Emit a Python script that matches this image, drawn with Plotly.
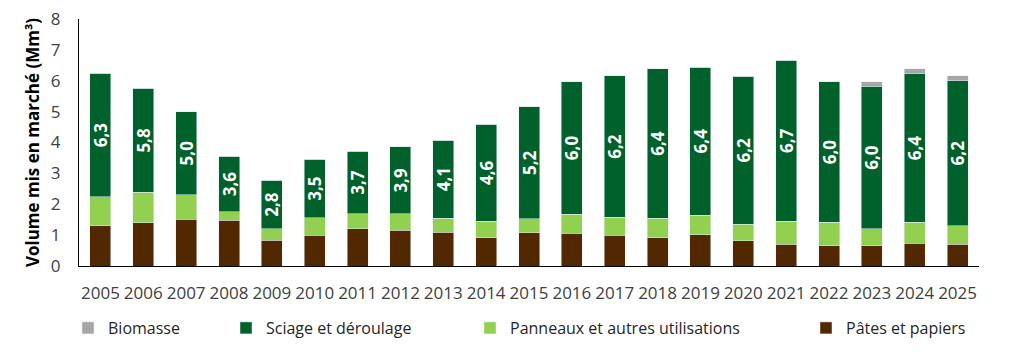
import plotly.graph_objects as go

years = [str(y) for y in range(2005, 2026)]
pates = [1.31, 1.40, 1.51, 1.48, 0.84, 0.99, 1.20, 1.16, 1.09, 0.92, 1.07,
         1.06, 0.99, 0.92, 1.01, 0.81, 0.70, 0.65, 0.65, 0.73, 0.70]
panneaux = [0.93, 0.99, 0.80, 0.27, 0.36, 0.57, 0.49, 0.53, 0.46, 0.53, 0.46,
            0.62, 0.59, 0.63, 0.64, 0.55, 0.75, 0.77, 0.55, 0.69, 0.61]
sciage = [4.01, 3.36, 2.69, 1.81, 1.58, 1.89, 2.03, 2.17, 2.53, 3.14, 3.63,
          4.29, 4.58, 4.84, 4.79, 4.78, 5.21, 4.55, 4.63, 4.80, 4.69]
biomasse = [0, 0, 0, 0, 0, 0, 0, 0, 0, 0, 0,
            0, 0, 0, 0, 0, 0, 0, 0.14, 0.17, 0.16]
total_labels = ["6,3", "5,8", "5,0", "3,6", "2,8", "3,5", "3,7", "3,9", "4,1", "4,6", "5,2",
                "6,0", "6,2", "6,4", "6,4", "6,2", "6,7", "6,0", "6,0", "6,4", "6,2"]

FONT = "Open Sans"
OFF = 8  # default page body margin
W, H = 1031 - OFF, 357 - OFF

fig = go.Figure()
fig.add_trace(go.Bar(x=years, y=pates, name="Pâtes et papiers",
                     marker_color="#522800", legend="legend4"))
fig.add_trace(go.Bar(x=years, y=panneaux, name="Panneaux et autres utilisations",
                     marker_color="#92D050", legend="legend3"))
fig.add_trace(go.Bar(x=years, y=sciage, name="Sciage et déroulage",
                     marker_color="#00622A", legend="legend2",
                     text=total_labels, textposition="inside",
                     insidetextanchor="middle", textangle=-90,
                     textfont=dict(family=FONT, size=17, color="white", weight="bold"),
                     constraintext="none"))
fig.add_trace(go.Bar(x=years, y=biomasse, name="Biomasse",
                     marker_color="#A6A6A6", legend="legend"))

def leg(text_start):
    return dict(xref="container", yref="container", x=(text_start - OFF - 42) / W,
                y=1 - (328 - OFF) / H, xanchor="left", yanchor="middle",
                orientation="h", bgcolor="rgba(0,0,0,0)",
                font=dict(family=FONT, size=16, color="#262626"))

fig.update_layout(
    barmode="stack",
    bargap=0.51,
    width=W, height=H,
    margin=dict(l=79 - OFF, r=52, t=19 - OFF, b=91, autoexpand=False),
    plot_bgcolor="white", paper_bgcolor="white",
    font=dict(family=FONT, color="#404040"),
    showlegend=True,
    legend=leg(110),
    legend2=leg(268),
    legend3=leg(512),
    legend4=leg(848),
    xaxis=dict(showline=True, linecolor="#000000", linewidth=1, automargin=False,
               ticks="outside", ticklen=12, tickcolor="rgba(0,0,0,0)",
               tickfont=dict(family=FONT, size=17, color="#404040"),
               showgrid=False),
    yaxis=dict(range=[0, 8], dtick=1, showline=True, linecolor="#000000", linewidth=1,
               automargin=False, ticklabeloverflow="allow",
               ticks="outside", ticklen=14, tickcolor="rgba(0,0,0,0)",
               tickfont=dict(family=FONT, size=17, color="#404040"),
               showgrid=False, zeroline=False,
               title=dict(text="Volume mis en marché (Mm³)", standoff=6,
                          font=dict(family=FONT, size=17, color="#000000", weight="bold"))),
)

fig.write_html("out.html")
